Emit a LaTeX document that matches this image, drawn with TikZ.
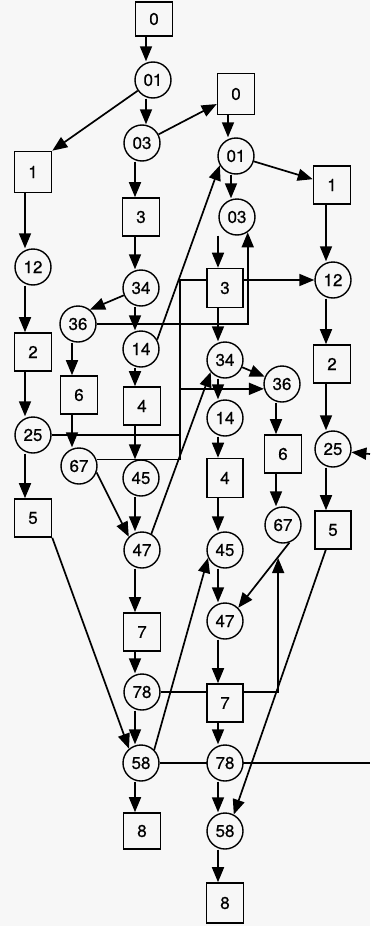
\documentclass[tikz,border=0pt]{standalone}
\usepackage{fontspec}
\setmainfont{TeX Gyre Heros}
\newfontfamily\digfont{TeX Gyre Heros}[FakeBold=0.6]
\usetikzlibrary{arrows.meta,backgrounds,calc}
\definecolor{bg}{RGB}{247,247,247}
\begin{document}
\begin{tikzpicture}[x=1pt,y=-1pt,
  sq/.style={draw,line width=1.6pt,fill=bg,minimum width=37pt,minimum height=38pt,inner sep=0pt,font=\digfont\fontsize{17}{17}\selectfont},
  cc/.style={circle,draw,line width=1.4pt,fill=bg,minimum size=36pt,inner sep=0pt,font=\digfont\fontsize{17}{17}\selectfont},
  arr/.style={line width=1.7pt,-{Triangle[length=15pt,width=12pt]}},
  ln/.style={line width=1.7pt}]
\useasboundingbox (0,0) rectangle (370,926);
% left copy
\node[sq,minimum height=34pt] (L0) at (154,19) {0};
\node[cc] (L01) at (153,80) {01};
\node[cc] (L03) at (142,143) {03};
\node[sq,minimum height=41pt] (L1) at (33,172) {1};
\node[sq] (L3) at (141,217) {3};
\node[cc] (L12) at (33,267) {12};
\node[cc] (L34) at (141,288) {34};
\node[cc] (L36) at (78,324) {36};
\node[cc] (L14) at (141,349) {14};
\node[sq] (L2) at (33,352) {2};
\node[sq] (L6) at (79,395) {6};
\node[sq] (L4) at (142,406) {4};
\node[cc] (L25) at (33,435) {25};
\node[cc] (L67) at (79,466) {67};
\node[cc] (L45) at (141,478) {45};
\node[sq] (L5) at (33,518) {5};
\node[cc] (L47) at (142,550) {47};
\node[sq] (L7) at (142,632) {7};
\node[cc] (L78) at (142,692) {78};
\node[cc] (L58) at (141,763) {58};
\node[sq,minimum height=36pt] (L8) at (142,831) {8};
% right copy
\node[sq,minimum height=41pt] (R0) at (236,94) {0};
\node[cc] (R01) at (236,156) {01};
\node[sq] (R1) at (332,185) {1};
\node[cc] (R03) at (237,217) {03};
\node[sq,minimum width=36pt,minimum height=39pt] (R3) at (225,288) {3};
\node[cc] (R12) at (333,280) {12};
\node[cc] (R34) at (225,360) {34};
\node[cc] (R36) at (282,384) {36};
\node[sq] (R2) at (332,364) {2};
\node[cc] (R14) at (225,418) {14};
\node[cc] (R25) at (333,449) {25};
\node[sq] (R6) at (283,454) {6};
\node[sq,minimum width=36pt,minimum height=39pt] (R4) at (225,478) {4};
\node[cc] (R67) at (283,525) {67};
\node[sq,minimum width=36pt] (R5) at (333,530) {5};
\node[cc] (R45) at (225,550) {45};
\node[cc] (R47) at (225,621) {47};
\node[sq,minimum width=36pt] (R7) at (225,703) {7};
\node[cc] (R78) at (225,763) {78};
\node[cc] (R58) at (225,831) {58};
\node[sq,minimum height=40pt] (R8) at (225,903) {8};
% helper coordinates
\coordinate (xa) at (25,0);
\coordinate (xb) at (72,0);
\coordinate (xc) at (135,0);
\coordinate (x0) at (146,0);
\coordinate (xd) at (228,0);
\coordinate (xdd) at (231,0);
\coordinate (xe) at (218,0);
\coordinate (xf) at (276,0);
\coordinate (xg) at (326,0);
\coordinate (busx) at (180,0);
\coordinate (offR) at (370,763);
\coordinate (inR) at (370,454);
\begin{scope}[on background layer]
\fill[bg] (0,0) rectangle (370,926);
% vertical arrows
\draw[arr] (L0.south -| x0) -- (L01.north -| x0);
\draw[arr] (L01.south -| x0) -- (L03.north -| x0);
\draw[arr] (L1.south -| xa) -- (L12.north -| xa);
\draw[arr] (L12.south -| xa) -- (L2.north -| xa);
\draw[arr] (L2.south -| xa) -- (L25.north -| xa);
\draw[arr] (L25.south -| xa) -- (L5.north -| xa);
\draw[arr] (L36.south -| xb) -- (L6.north -| xb);
\draw[arr] (L6.south -| xb) -- (L67.north -| xb);
\draw[arr] (L03.south -| xc) -- (L3.north -| xc);
\draw[arr] (L3.south -| xc) -- (L34.north -| xc);
\draw[arr] (L34.south -| xc) -- (L14.north -| xc);
\draw[arr] (L14.south -| xc) -- (L4.north -| xc);
\draw[arr] (L4.south -| xc) -- (L45.north -| xc);
\draw[arr] (L45.south -| xc) -- (L47.north -| xc);
\draw[arr] (L47.south -| xc) -- (L7.north -| xc);
\draw[arr] (L7.south -| xc) -- (L78.north -| xc);
\draw[arr] (L78.south -| xc) -- (L58.north -| xc);
\draw[arr] (L58.south -| xc) -- (L8.north -| xc);
\draw[arr] (R0.south -| xd) -- (R01.north -| xd);
\draw[arr] (R01.south -| xdd) -- (R03.north -| xdd);
\draw[arr] (R03.south -| xe) -- (R3.north -| xe);
\draw[arr] (R3.south -| xe) -- (R34.north -| xe);
\draw[arr] (R34.south -| xe) -- (R14.north -| xe);
\draw[arr] (R14.south -| xe) -- (R4.north -| xe);
\draw[arr] (R4.south -| xe) -- (R45.north -| xe);
\draw[arr] (R45.south -| xe) -- (R47.north -| xe);
\draw[arr] (R47.south -| xe) -- (R7.north -| xe);
\draw[arr] (R7.south -| xe) -- (R78.north -| xe);
\draw[arr] (R78.south -| xe) -- (R58.north -| xe);
\draw[arr] (R58.south -| xe) -- (R8.north -| xe);
\draw[arr] (R36.south -| xf) -- (R6.north -| xf);
\draw[arr] (R6.south -| xf) -- (R67.north -| xf);
\draw[arr] (R1.south -| xg) -- (R12.north -| xg);
\draw[arr] (R12.south -| xg) -- (R2.north -| xg);
\draw[arr] (R2.south -| xg) -- (R25.north -| xg);
\draw[arr] (R25.south -| xg) -- (R5.north -| xg);
% diagonal and routed connectors
\draw[arr] (L01) -- (L1.north east);
\draw[arr] (L03) -- (R0);
\draw[arr] (R01) -- (R1);
\draw[arr] (L34) -- (L36.50);
\draw[arr] (L14.30) -- (R01.210);
\draw[arr] (L36.east) -| (R03.305);
\draw[arr] (L25.east) -- (L25.east -| busx) |- (R12.west);
\draw[arr] (L67.20) -- (L67.20 -| busx) |- (R36.195);
\draw[arr] (R34) -- (R36);
\draw[arr] (L67.-20) -- (L47.135);
\draw[arr] (L47.60) -- (R34.220);
\draw[arr] (R67.-70) -- (R47.45);
\draw[arr] (L5.south east) -- (L58.130);
\draw[arr] (L58.45) -- (R45.205);
\draw[arr] (L78.east) -| ([yshift=-15pt]R67.-105);
\draw[ln] (L58.east) -- (offR);
\draw[arr] (R5.-110) -- (R58.62);
\draw[arr] (inR) -- (R25.-10);
\end{scope}
\end{tikzpicture}
\end{document}
